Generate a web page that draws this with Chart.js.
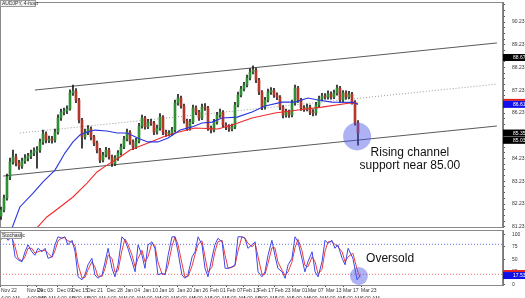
<!DOCTYPE html>
<html>
<head>
<meta charset="utf-8">
<script src="https://cdn.jsdelivr.net/npm/chart.js@4"></script>
<style>
  body { margin: 0; background: #fff; }
  #wrap { position: relative; width: 525px; height: 298px; overflow: hidden; }
  #main { position: absolute; left: 0; top: 0; }
  #stoch { position: absolute; left: 0; top: 228px; }
</style>
</head>
<body>
<div id="wrap">
  <canvas id="main" width="525" height="228" style="width:525px;height:228px"></canvas>
  <canvas id="stoch" width="525" height="70" style="width:525px;height:70px"></canvas>
</div>
<script>
// AUD/JPY 4-hour candles (one per slot, index 0 = Nov 22)
const opens = [
  81.70, 81.97, 82.49, 83.42, 84.08, 84.30, 84.03, 83.90, 84.12, 84.25,
  84.34, 84.47, 84.56, 84.60, 84.96, 85.31, 85.04, 85.09, 85.04, 85.39,
  86.01, 86.27, 86.32, 86.41, 87.11, 87.20, 86.80, 85.92, 85.18, 85.39,
  85.53, 85.18, 84.91, 84.60, 84.16, 84.38, 84.60, 84.30, 83.99, 84.25,
  84.47, 84.74, 85.09, 85.39, 84.96, 84.74, 85.00, 85.66, 86.01, 85.62,
  85.83, 85.79, 85.39, 85.57, 86.05, 85.39, 85.31, 85.35, 85.48, 86.67,
  86.89, 86.54, 85.88, 85.57, 85.83, 86.45, 86.27, 86.01, 86.49, 86.45,
  85.57, 85.48, 85.83, 86.14, 86.27, 85.70, 85.62, 85.53, 85.62, 86.58,
  87.02, 87.29, 87.46, 87.77, 88.03, 88.12, 87.68, 87.15, 86.49, 86.80,
  87.15, 87.22, 87.02, 86.93, 86.49, 86.14, 86.27, 86.14, 86.67, 87.33,
  86.80, 86.45, 86.41, 86.49, 86.27, 86.23, 86.58, 86.85, 86.98, 86.93,
  87.07, 86.93, 87.11, 87.33, 86.80, 87.11, 86.93, 87.07, 86.71, 85.79
];
const highs = [
  82.10, 82.62, 83.55, 84.25, 84.60, 84.42, 84.15, 84.25, 84.40, 84.46,
  84.60, 84.70, 84.75, 85.08, 85.48, 85.40, 85.22, 85.20, 85.52, 86.15,
  86.40, 86.45, 86.55, 87.25, 87.46, 87.30, 86.88, 86.00, 85.52, 85.68,
  85.62, 85.25, 85.00, 84.68, 84.50, 84.72, 84.68, 84.38, 84.36, 84.58,
  84.86, 85.20, 85.52, 85.46, 85.05, 85.12, 85.78, 86.14, 86.08, 85.95,
  85.96, 85.86, 85.70, 86.20, 86.12, 85.48, 85.46, 85.60, 86.80, 87.05,
  86.98, 86.62, 85.96, 85.95, 86.58, 86.55, 86.35, 86.62, 86.64, 86.52,
  85.66, 85.95, 86.26, 86.40, 86.34, 85.80, 85.72, 85.74, 86.70, 87.15,
  87.40, 87.58, 87.90, 88.18, 88.30, 88.20, 87.76, 87.22, 86.92, 87.28,
  87.35, 87.32, 87.12, 87.00, 86.56, 86.40, 86.36, 86.80, 87.46, 87.40,
  86.88, 86.56, 86.62, 86.58, 86.38, 86.70, 86.98, 87.10, 87.08, 87.20,
  87.16, 87.24, 87.46, 87.40, 87.22, 87.20, 87.18, 87.14, 86.78, 85.90
];
const lows = [
  81.55, 81.88, 82.40, 83.30, 83.98, 83.90, 83.75, 83.80, 84.02, 84.12,
  84.22, 84.35, 83.81, 84.50, 84.85, 84.92, 84.93, 84.90, 84.95, 85.30,
  85.90, 86.15, 86.20, 86.35, 87.00, 86.68, 85.80, 84.69, 85.08, 85.28,
  85.05, 84.80, 84.48, 84.05, 84.08, 84.30, 84.20, 83.88, 83.92, 84.15,
  84.38, 84.66, 85.00, 84.85, 84.62, 84.66, 84.92, 85.56, 85.52, 85.54,
  85.68, 85.28, 85.30, 85.48, 85.28, 85.20, 85.22, 85.25, 85.40, 86.58,
  86.44, 85.78, 85.46, 85.48, 85.76, 86.16, 85.90, 85.94, 86.34, 85.46,
  85.36, 85.40, 85.74, 86.04, 85.60, 85.50, 85.42, 85.44, 85.54, 86.50,
  86.94, 87.20, 87.38, 87.68, 87.95, 87.56, 87.04, 86.38, 86.40, 86.72,
  87.05, 86.92, 86.82, 86.38, 86.02, 86.05, 86.04, 86.06, 86.58, 86.70,
  86.34, 86.30, 86.32, 86.16, 86.10, 86.14, 86.50, 86.76, 86.84, 86.84,
  86.84, 86.86, 87.02, 86.70, 86.72, 86.84, 86.86, 86.62, 85.70, 84.82
];
const closes = [
  81.97, 82.49, 83.42, 84.08, 84.30, 84.03, 83.90, 84.12, 84.25, 84.34,
  84.47, 84.56, 84.60, 84.96, 85.31, 85.04, 85.09, 85.04, 85.39, 86.01,
  86.27, 86.32, 86.41, 87.11, 87.20, 86.80, 85.92, 85.18, 85.39, 85.53,
  85.18, 84.91, 84.60, 84.16, 84.38, 84.60, 84.30, 83.99, 84.25, 84.47,
  84.74, 85.09, 85.39, 84.96, 84.74, 85.00, 85.66, 86.01, 85.62, 85.83,
  85.79, 85.39, 85.57, 86.05, 85.39, 85.31, 85.35, 85.48, 86.67, 86.89,
  86.54, 85.88, 85.57, 85.83, 86.45, 86.27, 86.01, 86.49, 86.45, 85.57,
  85.48, 85.83, 86.14, 86.27, 85.70, 85.62, 85.53, 85.62, 86.58, 87.02,
  87.29, 87.46, 87.77, 88.03, 88.12, 87.68, 87.15, 86.49, 86.80, 87.15,
  87.22, 87.02, 86.93, 86.49, 86.14, 86.27, 86.14, 86.67, 87.33, 86.80,
  86.45, 86.41, 86.49, 86.27, 86.23, 86.58, 86.85, 86.98, 86.93, 87.07,
  86.93, 87.11, 87.33, 86.80, 87.11, 86.93, 87.07, 86.71, 85.79, 85.35
];

// moving averages (blue = faster, red = slower)
const maFastIdx = [3.7, 6.3, 10.7, 14, 18, 21.3, 24, 26.3, 28.7, 31.3, 35.3, 38.7, 42, 46.3, 49, 52.3,
  55.7, 59.7, 63.7, 67, 70.3, 73.7, 78.7, 83.7, 88, 93.7, 98, 102.3, 105.7, 110.3, 117.3, 119];
const maFast = [81.18, 82.10, 82.71, 83.20, 83.72, 84.47, 84.96, 85.26, 85.39, 85.48, 85.44, 85.35, 85.35, 85.09, 84.96, 84.96,
  85.13, 85.48, 85.62, 85.79, 85.83, 86.01, 86.05, 86.27, 86.54, 86.71, 86.71, 86.89, 86.80, 86.71, 86.70, 86.61];
const maSlowIdx = [11.3, 15.3, 19.7, 24, 28.7, 32, 35.3, 39.7, 43, 50.3, 54, 58, 64.7, 72.3, 77, 83.7, 91.3, 99, 107, 116.3, 119];
const maSlow = [81.09, 81.66, 82.10, 82.54, 83.15, 83.64, 83.94, 84.30, 84.60, 84.98, 85.18, 85.35, 85.57, 85.53, 85.70, 86.01,
  86.23, 86.36, 86.49, 86.67, 86.66];

// channel trend lines [start, end]
const upperIdx = [11.3, 165.3];
const upperVals = [87.24, 89.31];
const midIdx = [6.3, 165.3];
const midVals = [85.35, 87.50];
const lowerIdx = [0.7, 165.3];
const lowerVals = [83.46, 85.66];

// stochastic oscillator
const stochIdx = [0, 1.3, 2.3, 3.7, 4.7, 5.7, 7, 8, 9, 10.3,
  11.3, 12.3, 13.7, 14.7, 15.7, 17, 18, 19, 20.3, 21.3,
  22.3, 23.7, 24.7, 25.7, 27, 28, 29, 30.3, 31.3, 32.3,
  33.7, 34.7, 35.7, 37, 38, 39, 40.3, 41.3, 42.3, 43.7,
  44.7, 45.7, 47, 48, 49, 50.3, 51.3, 52.3, 53.7, 54.7,
  55.7, 57, 58, 59, 60.3, 61.3, 62.3, 63.7, 64.7, 65.7,
  67, 68, 69, 70.3, 71.3, 72.3, 73.7, 74.7, 75.7, 77,
  78, 79, 80.3, 81.3, 82.3, 83.7, 84.7, 85.7, 87, 88,
  89, 90.3, 91.3, 92.3, 93.7, 94.7, 95.7, 97, 98, 99,
  100.3, 101.3, 102.3, 103.7, 104.7, 105.7, 107, 108, 109, 110.3,
  111.3, 112.3, 113.7, 114.7, 115.7, 117.3, 118.7, 119.7];
const stochK = [92, 98, 88, 95, 55, 49, 45, 65, 79, 65,
  58, 72, 65, 72, 52, 55, 79, 95, 92, 95,
  79, 88, 65, 15, 9, 19, 39, 52, 19, 12,
  19, 45, 72, 32, 15, 39, 95, 88, 72, 45,
  25, 79, 58, 32, 79, 85, 72, 19, 22, 19,
  58, 95, 95, 65, 19, 12, 19, 55, 65, 95,
  79, 32, 15, 52, 79, 92, 85, 32, 32, 35,
  39, 95, 95, 92, 72, 79, 85, 25, 15, 25,
  58, 88, 58, 32, 25, 12, 39, 52, 95, 85,
  52, 25, 45, 65, 25, 15, 45, 88, 82, 88,
  72, 79, 52, 39, 72, 52, 9, 17.53];
const stochD = [90, 95, 93, 92, 75, 52, 47, 55, 72, 72,
  62, 65, 68, 68, 62, 54, 67, 87, 93, 93,
  87, 84, 76, 40, 12, 14, 29, 45, 35, 16,
  16, 32, 58, 52, 24, 27, 67, 91, 80, 58,
  35, 52, 68, 45, 55, 82, 78, 45, 20, 21,
  38, 76, 95, 80, 42, 15, 15, 37, 60, 80,
  87, 55, 24, 34, 65, 85, 88, 58, 32, 34,
  37, 67, 95, 93, 82, 75, 82, 55, 20, 20,
  42, 73, 73, 45, 28, 18, 25, 45, 73, 90,
  68, 38, 35, 55, 45, 20, 30, 66, 85, 85,
  80, 75, 65, 45, 55, 62, 30, 14];
const stochLevels = [80, 20];

// axes
const priceLabels = [81.23, 82.23, 83.23, 84.23, 86.23, 87.23, 88.23, 89.23, 90.23];
const stochLabels = [0, 25, 50, 75, 100];
const dateIdx = [0, 8.7, 12, 18.7, 23.7, 28.7, 35.3, 41.3, 47.3, 52.7, 58.7, 64, 69.7, 75.3, 80.7, 85.7, 91.3, 97, 102.3, 108.3, 114, 120];
const dateLabels = ['Nov 22', 'Nov 29', 'Dec 03', 'Dec 09', 'Dec 15', 'Dec 21', 'Dec 28', 'Jan 04', 'Jan 10', 'Jan 16', 'Jan 20',
  'Jan 26', 'Feb 01', 'Feb 07', 'Feb 13', 'Feb 17', 'Feb 23', 'Mar 01', 'Mar 07', 'Mar 13', 'Mar 17', 'Mar 23'];

// price tags on the right axis, highlight circles and notes
const priceTags = [88.67, 86.61, 85.35, 85.03];
const stochTag = 17.53;
const supportSpot = [118.7, 85.20];
const oversoldSpot = [119.3, 16.6];
const supportNote = ['Rising channel', 'support near 85.00'];
const supportNoteAt = [136.3, 84.47, 83.90];
const oversoldNote = 'Oversold';
const oversoldNoteAt = [129.7, 50.6];

Chart.defaults.font.family = 'Liberation Sans, Arial, sans-serif';
Chart.defaults.animation = false;

const X_MIN = -0.33, X_MAX = 167.33;

const pts = (xs, ys) => xs.map((x, i) => ({ x: x, y: ys[i] }));

const framePlugin = {
  id: 'frame',
  beforeDatasetsDraw(chart) {
    const { ctx, chartArea: a } = chart;
    ctx.save();
    ctx.strokeStyle = '#8a8a8a';
    ctx.lineWidth = 1;
    ctx.strokeRect(a.left + 0.5, a.top + 0.5, a.right - a.left - 1, a.bottom - a.top);
    ctx.restore();
  }
};

function drawTag(ctx, x, y, text, bg, strip) {
  if (strip) {
    ctx.fillStyle = strip;
    ctx.fillRect(x, y - 5.5, 22, 2);
  }
  ctx.fillStyle = bg;
  ctx.fillRect(x, y - 3.5, 22, 7);
  ctx.fillStyle = '#fff';
  ctx.font = '5px Liberation Sans';
  ctx.textBaseline = 'middle';
  ctx.textAlign = 'left';
  ctx.fillText(text, x + 10, y + 0.5);
}

function drawCaption(ctx, x, y, w, text) {
  ctx.fillStyle = '#f0f0f0';
  ctx.fillRect(x, y, w, 7);
  ctx.strokeStyle = '#9a9a9a';
  ctx.strokeRect(x + 0.5, y + 0.5, w - 1, 6);
  ctx.fillStyle = '#333';
  ctx.font = '5px Liberation Sans';
  ctx.textBaseline = 'middle';
  ctx.textAlign = 'left';
  ctx.fillText(text, x + 2, y + 3.8);
}

const mainExtras = {
  id: 'mainExtras',
  afterDraw(chart) {
    const { ctx, scales } = chart;
    const y = scales.y, x = scales.x;
    ctx.save();
    ctx.fillStyle = '#111';
    ctx.font = '12px Liberation Sans';
    ctx.textAlign = 'center';
    ctx.textBaseline = 'middle';
    supportNote.forEach((t, i) => {
      ctx.fillText(t, x.getPixelForValue(supportNoteAt[0]), y.getPixelForValue(supportNoteAt[i + 1]));
    });
    priceTags.forEach((v, i) => {
      const blue = i === 1;
      drawTag(ctx, chart.chartArea.right, y.getPixelForValue(v), v.toFixed(2), blue ? '#1010e8' : '#000', blue ? '#e02020' : null);
    });
    drawCaption(ctx, 0, 0, 36, 'AUDJPY, 4-hour');
    ctx.restore();
  }
};

const stochExtras = {
  id: 'stochExtras',
  afterDraw(chart) {
    const { ctx, scales } = chart;
    const y = scales.y, x = scales.x;
    ctx.save();
    ctx.fillStyle = '#111';
    ctx.font = '12px Liberation Sans';
    ctx.textAlign = 'center';
    ctx.textBaseline = 'middle';
    ctx.fillText(oversoldNote, x.getPixelForValue(oversoldNoteAt[0]), y.getPixelForValue(oversoldNoteAt[1]));
    drawTag(ctx, chart.chartArea.right, y.getPixelForValue(stochTag), stochTag.toFixed(2), '#1010e8', '#e02020');
    drawCaption(ctx, 0, 4, 22, 'Stochastic');
    ctx.restore();
  }
};

const candleColors = closes.map((c, i) => c >= opens[i] ? '#2f8f34' : '#b5372c');

new Chart(document.getElementById('main'), {
  type: 'bar',
  data: {
    datasets: [
      { type: 'scatter', data: [{ x: supportSpot[0], y: supportSpot[1] }], pointRadius: 14, pointHoverRadius: 14,
        backgroundColor: 'rgba(70,85,230,0.45)', borderWidth: 0, order: 0 },
      { type: 'line', data: pts(maFastIdx, maFast), borderColor: '#2b35e0', borderWidth: 1.1, pointRadius: 0, order: 1 },
      { type: 'line', data: pts(maSlowIdx, maSlow), borderColor: '#f02a2a', borderWidth: 1.1, pointRadius: 0, order: 1 },
      { type: 'bar', data: closes.map((c, i) => ({ x: i, y: [opens[i], c] })), backgroundColor: candleColors,
        barThickness: 2, minBarLength: 1, grouped: false, order: 2 },
      { type: 'bar', data: closes.map((c, i) => ({ x: i, y: [lows[i], highs[i]] })), backgroundColor: '#1b1b1b',
        barThickness: 1, grouped: false, order: 3 },
      { type: 'line', data: pts(upperIdx, upperVals), borderColor: '#5a5a5a', borderWidth: 1, pointRadius: 0, order: 4 },
      { type: 'line', data: pts(lowerIdx, lowerVals), borderColor: '#5a5a5a', borderWidth: 1, pointRadius: 0, order: 4 },
      { type: 'line', data: pts(midIdx, midVals), borderColor: '#9a9a9a', borderWidth: 1, borderDash: [1, 2], pointRadius: 0, order: 4 }
    ]
  },
  options: {
    responsive: false,
    layout: { autoPadding: false, padding: { top: 2, bottom: 1, left: 0, right: 0 } },
    plugins: { legend: { display: false }, tooltip: { enabled: false } },
    scales: {
      x: { type: 'linear', min: X_MIN, max: X_MAX, offset: false, display: false },
      y: {
        position: 'right', min: 81.22, max: 91.11,
        afterBuildTicks(s) {
          const t = [];
          for (let v = 81.23; v < 91.11; v += 0.25) t.push({ value: v });
          s.ticks = t;
        },
        afterFit(s) { s.width = 22; s.paddingTop = 0; s.paddingBottom = 0; },
        border: { color: '#777' },
        grid: { drawOnChartArea: false, tickLength: 2, color: '#555' },
        ticks: {
          autoSkip: false, padding: 7, color: '#333', font: { size: 5 },
          callback: v => priceLabels.some(p => Math.abs(p - v) < 0.001) ? v.toFixed(2) : ''
        }
      }
    }
  },
  plugins: [framePlugin, mainExtras]
});

new Chart(document.getElementById('stoch'), {
  type: 'line',
  data: {
    datasets: [
      { type: 'scatter', data: [{ x: oversoldSpot[0], y: oversoldSpot[1] }], pointRadius: 9, pointHoverRadius: 9,
        backgroundColor: 'rgba(70,85,230,0.45)', borderWidth: 0, order: 0 },
      { data: pts(stochIdx, stochD), borderColor: '#ee3b3b', borderWidth: 1, pointRadius: 0, order: 2 },
      { data: pts(stochIdx, stochK), borderColor: '#3d47e8', borderWidth: 1, pointRadius: 0, order: 1 },
      { data: pts([X_MIN, X_MAX], [stochLevels[0], stochLevels[0]]), borderColor: '#6a74f0', borderWidth: 1,
        borderDash: [1, 2], pointRadius: 0, order: 3 },
      { data: pts([X_MIN, X_MAX], [stochLevels[1], stochLevels[1]]), borderColor: '#f06a6a', borderWidth: 1,
        borderDash: [1, 2], pointRadius: 0, order: 3 }
    ]
  },
  options: {
    responsive: false,
    layout: { autoPadding: false, padding: { top: 2, bottom: 0, left: 0, right: 0 } },
    plugins: { legend: { display: false }, tooltip: { enabled: false } },
    scales: {
      x: {
        type: 'linear', min: X_MIN, max: X_MAX, offset: false,
        afterBuildTicks(s) { s.ticks = dateIdx.map(v => ({ value: v })); },
        afterFit(s) { s.height = 13; s.paddingLeft = 0; s.paddingRight = 0; },
        border: { color: '#777' },
        grid: { drawOnChartArea: false, tickLength: 2, color: '#555' },
        ticks: {
          autoSkip: false, maxRotation: 0, align: 'start', padding: 0, color: '#333',
          font: { size: 5, lineHeight: 1.5 },
          callback: (v, i) => [dateLabels[i], '4:00 AM']
        }
      },
      y: {
        position: 'right', min: -1.4, max: 108.6,
        afterBuildTicks(s) { s.ticks = stochLabels.map(v => ({ value: v })); },
        afterFit(s) { s.width = 22; s.paddingTop = 0; s.paddingBottom = 0; },
        border: { color: '#777' },
        grid: { drawOnChartArea: false, tickLength: 2, color: '#555' },
        ticks: { autoSkip: false, padding: 7, color: '#333', font: { size: 5 } }
      }
    }
  },
  plugins: [framePlugin, stochExtras]
});
</script>
</body>
</html>
